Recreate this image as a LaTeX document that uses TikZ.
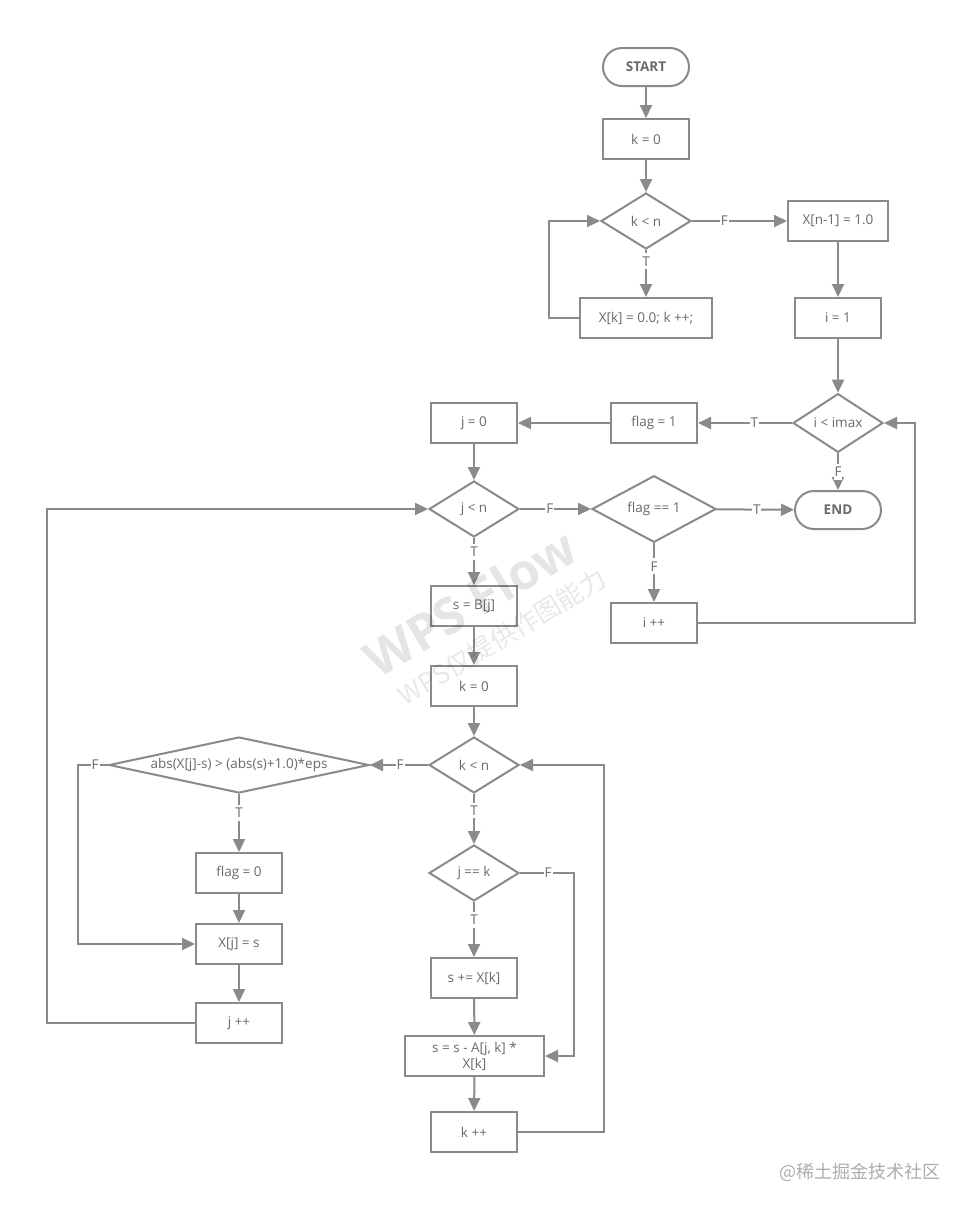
\documentclass[tikz,border=0pt]{standalone}
\usepackage{fontspec}
\setmainfont{Open Sans}
\newfontfamily\cjkf{Noto Sans CJK SC}
\usetikzlibrary{shapes.geometric,arrows.meta}
\definecolor{lnc}{HTML}{8A8A8A}
\definecolor{txc}{HTML}{6A6A6A}
\begin{document}
\begin{tikzpicture}[x=1pt,y=-1pt,
  tfont/.style={font=\fontsize{13.5}{16}\selectfont},
  base/.style={draw=lnc, line width=2pt, text=txc, tfont, inner sep=0pt, align=center},
  box/.style={base, rectangle, minimum width=86pt, minimum height=40pt},
  dia/.style={base, diamond, minimum width=90pt, minimum height=56pt},
  term/.style={base, rectangle, rounded corners=19pt, minimum width=86pt, minimum height=38pt, font=\fontsize{13.5}{16}\selectfont\bfseries},
  arr/.style={draw=lnc, line width=2pt, -{Triangle[length=13pt,width=12pt]}},
  lbl/.style={fill=white, text=txc, tfont, inner xsep=1pt, inner ysep=3pt}
]
\fill[white] (0,0) rectangle (974,1213);
\useasboundingbox (0,0) rectangle (974,1213);

% nodes
\node[term] (start) at (646,67) {START};
\node[box] (k0) at (646,139) {k = 0};
\node[dia] (kn) at (646,221) {k < n};
\node[box, minimum width=132pt] (xk) at (646,318) {X[k] = 0.0; k ++;};
\node[box, minimum width=100pt] (xn1) at (838,221) {X[n-1] = 1.0};
\node[box] (i1) at (838,318) {i = 1};
\node[dia] (iimax) at (838,423) {i < imax};
\node[box] (flag1) at (654,423) {flag = 1};
\node[box] (j0) at (474,423) {j = 0};
\node[dia] (jn) at (474,509) {j < n};
\node[dia, minimum width=124pt] (flageq) at (654,509) {flag == 1};
\node[term] (end) at (838,510) {END};
\node[box] (ipp) at (654,623) {i ++};
\node[box] (sbj) at (474,606) {s = B[j]};
\node[box] (k0b) at (474,686) {k = 0};
\node[dia] (knb) at (474,765) {k < n};
\node[dia, minimum width=260pt, label={[text=txc, tfont]center:abs(X[j]-s) > (abs(s)+1.0)*eps}] (absd) at (239,765) {};
\node[box] (flag0) at (239,873) {flag = 0};
\node[box] (xjs) at (239,944) {X[j] = s};
\node[box] (jpp) at (239,1023) {j ++};
\node[dia] (jk) at (474,873) {j == k};
\node[box] (spx) at (474,978) {s += X[k]};
\node[box, minimum width=139pt] (ssa) at (474.5,1056) {s = s - A[j, k] *\\X[k]};
\node[box] (kpp) at (474,1132) {k ++};

% connectors
\draw[arr] (start) -- (k0);
\draw[arr] (k0) -- (kn);
\draw[arr] (kn) -- node[lbl,pos=0.24]{T} (xk);
\draw[arr] (xk.west) -- ++(-30,0) |- (kn.west);
\draw[arr] (kn) -- node[lbl,pos=0.34]{F} (xn1);
\draw[arr] (xn1) -- (i1);
\draw[arr] (i1) -- (iimax);
\draw[arr] (iimax) -- node[lbl,pos=0.4]{T} (flag1);
\draw[arr] (flag1) -- (j0);
\draw[arr] (j0) -- (jn);
\draw[arr] (iimax) -- node[lbl,pos=0.5]{F} (end);
\draw[arr] (jn) -- node[lbl,pos=0.42]{F} (flageq);
\draw[arr] (flageq) -- node[lbl,pos=0.52]{T} (end);
\draw[arr] (flageq) -- node[lbl,pos=0.39]{F} (ipp);
\draw[arr] (ipp.east) -- ++(217,0) |- (iimax.east);
\draw[arr] (jn) -- node[lbl,pos=0.3]{T} (sbj);
\draw[arr] (sbj) -- (k0b);
\draw[arr] (k0b) -- (knb);
\draw[arr] (knb) -- node[lbl,pos=0.48]{F} (absd);
\draw[arr] (absd.west) -- node[lbl,pos=0.43]{F} ++(-30,0) |- (xjs.west);
\draw[arr] (absd) -- node[lbl,pos=0.33]{T} (flag0);
\draw[arr] (flag0) -- (xjs);
\draw[arr] (xjs) -- (jpp);
\draw[arr] (jpp.west) -- ++(-148,0) |- (jn.west);
\draw[arr] (knb) -- node[lbl,pos=0.33]{T} (jk);
\draw[arr] (jk.east) -- node[lbl,pos=0.52]{F} ++(54,0) |- (ssa.east);
\draw[arr] (jk) -- node[lbl,pos=0.33]{T} (spx);
\draw[arr] (spx) -- (ssa);
\draw[arr] (ssa) -- (kpp);
\draw[arr] (kpp.east) -- ++(86,0) |- (knb.east);

% watermarks
\node[rotate=31, text=black, opacity=0.1, font=\fontsize{50}{50}\selectfont\bfseries] (wm1) at (470,603) {WPS Flow};
\node[rotate=31, text=black, opacity=0.09, font=\fontsize{26}{26}\selectfont\cjkf] (wm2) at (502,637) {WPS仅提供作图能力};
\node[text=black!32, font=\fontsize{18}{18}\selectfont\cjkf, anchor=east] (wm3) at (944,1172) {@稀土掘金技术社区};
\end{tikzpicture}
\end{document}
